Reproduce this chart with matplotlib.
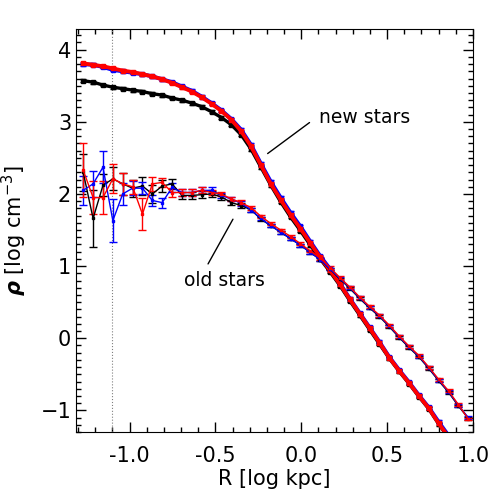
import matplotlib
matplotlib.use('Agg')
import matplotlib.pyplot as plt
from matplotlib.ticker import MultipleLocator

# bin centres [log kpc]
r = [-1.27, -1.2125, -1.155, -1.0975, -1.04, -0.9825, -0.925, -0.8675, -0.81, -0.7525,
     -0.695, -0.6375, -0.58, -0.5225, -0.465, -0.4075, -0.35, -0.2925, -0.235, -0.1775,
     -0.12, -0.0625, -0.005, 0.0525, 0.11, 0.1675, 0.225, 0.2825, 0.34, 0.3975,
     0.455, 0.5125, 0.57, 0.6275, 0.685, 0.7425, 0.80, 0.8575, 0.915, 0.9725]

# new stars
new_red = [3.81, 3.79, 3.77, 3.74, 3.71, 3.69, 3.66, 3.63, 3.59, 3.54,
           3.48, 3.42, 3.34, 3.25, 3.15, 3.03, 2.87, 2.66, 2.40, 2.14,
           1.92, 1.71, 1.52, 1.32, 1.12, 0.94, 0.75, 0.54, 0.34, 0.14,
           -0.06, -0.27, -0.45, -0.62, -0.80, -0.97, -1.18, -1.37]
new_blue = [3.80, 3.79, 3.76, 3.72, 3.70, 3.68, 3.66, 3.63, 3.59, 3.55,
            3.49, 3.43, 3.35, 3.26, 3.16, 3.04, 2.89, 2.68, 2.42, 2.17,
            1.95, 1.74, 1.55, 1.34, 1.14, 0.96, 0.76, 0.55, 0.35, 0.15,
            -0.05, -0.26, -0.44, -0.61, -0.79, -0.96, -1.16, -1.35]
new_black = [3.57, 3.55, 3.51, 3.48, 3.46, 3.44, 3.42, 3.39, 3.37, 3.33,
             3.30, 3.26, 3.21, 3.14, 3.06, 2.96, 2.82, 2.62, 2.37, 2.12,
             1.89, 1.68, 1.49, 1.29, 1.10, 0.92, 0.73, 0.52, 0.32, 0.12,
             -0.08, -0.28, -0.46, -0.63, -0.81, -0.98, -1.19, -1.38]
new_err = 0.02

# old stars
old_black = [2.30, 1.66, 2.12, 2.21, 2.14, 2.08, 2.11, 2.00, 2.11, 2.14,
             1.98, 1.98, 1.99, 2.00, 1.96, 1.88, 1.84, 1.78, 1.65, 1.56,
             1.47, 1.38, 1.29, 1.19, 1.09, 0.96, 0.82, 0.69, 0.55, 0.42,
             0.30, 0.16, 0.01, -0.13, -0.26, -0.42, -0.59, -0.75, -0.94, -1.11]
old_blue = [2.05, 2.14, 2.37, 1.63, 2.00, 2.08, 2.08, 1.91, 1.88, 2.09,
            2.02, 2.02, 2.05, 2.05, 1.98, 1.93, 1.87, 1.78, 1.66, 1.56,
            1.47, 1.38, 1.29, 1.19, 1.09, 0.96, 0.83, 0.70, 0.56, 0.43,
            0.31, 0.17, 0.02, -0.12, -0.25, -0.41, -0.58, -0.74, -0.93, -1.10]
old_red = [2.33, 1.95, 1.95, 2.21, 2.14, 2.10, 1.72, 2.14, 2.16, 2.02,
           2.02, 2.02, 2.05, 2.02, 2.00, 1.93, 1.88, 1.81, 1.69, 1.59,
           1.50, 1.41, 1.31, 1.21, 1.11, 0.98, 0.84, 0.71, 0.57, 0.44,
           0.32, 0.18, 0.03, -0.11, -0.24, -0.40, -0.57, -0.73, -0.92, -1.12]
err_black = [0.26, 0.40, 0.15, 0.16, 0.15, 0.12, 0.13, 0.12, 0.08, 0.07,
             0.05, 0.05, 0.05, 0.04, 0.04, 0.03, 0.03, 0.03, 0.03, 0.02,
             0.02, 0.02, 0.02, 0.02, 0.02, 0.02, 0.02, 0.02, 0.02, 0.02,
             0.02, 0.02, 0.02, 0.02, 0.02, 0.02, 0.02, 0.02, 0.02, 0.02]
err_blue = [0.20, 0.18, 0.22, 0.30, 0.15, 0.10, 0.08, 0.08, 0.07, 0.06,
            0.05, 0.05, 0.04, 0.04, 0.03, 0.03, 0.03, 0.03, 0.02, 0.02,
            0.02, 0.02, 0.02, 0.02, 0.02, 0.02, 0.02, 0.02, 0.02, 0.02,
            0.02, 0.02, 0.02, 0.02, 0.02, 0.02, 0.02, 0.02, 0.02, 0.02]
err_red = [0.37, 0.23, 0.23, 0.20, 0.15, 0.10, 0.22, 0.10, 0.06, 0.06,
           0.05, 0.05, 0.04, 0.04, 0.03, 0.03, 0.03, 0.03, 0.02, 0.02,
           0.02, 0.02, 0.02, 0.02, 0.02, 0.02, 0.02, 0.02, 0.02, 0.02,
           0.02, 0.02, 0.02, 0.02, 0.02, 0.02, 0.02, 0.02, 0.02, 0.02]

fig = plt.figure(figsize=(5, 5), dpi=100)
ax = fig.add_axes([0.152, 0.136, 0.794, 0.805])

ax.axvline(-1.1, color='0.5', ls=':', lw=0.8)

n = len(new_red)
for y, c, lw in [(new_black, 'black', 2.4), (new_blue, 'blue', 2.8), (new_red, 'red', 2.8)]:
    ax.errorbar(r[:n], y, yerr=new_err, color=c, lw=lw, marker='s', ms=2.5,
                capsize=2, elinewidth=1)

for y, e, c in [(old_black, err_black, 'black'), (old_blue, err_blue, 'blue'),
                (old_red, err_red, 'red')]:
    ax.errorbar(r, y, yerr=e, color=c, lw=1.0, marker='s', ms=1.8,
                capsize=3, elinewidth=1)

ax.annotate('', xy=(-0.196, 2.56), xytext=(0.048, 2.99),
            arrowprops=dict(arrowstyle='-', color='black', lw=1, shrinkA=0, shrinkB=0))
ax.text(0.105, 3.06, 'new stars', fontsize=13.5, ha='left', va='center')
ax.annotate('', xy=(-0.543, 1.03), xytext=(-0.398, 1.65),
            arrowprops=dict(arrowstyle='-', color='black', lw=1, shrinkA=0, shrinkB=0))
ax.text(-0.45, 0.80, 'old stars', fontsize=13.5, ha='center', va='center')

ax.set_xlim(-1.312, 1.0)
ax.set_ylim(-1.3, 4.28)
ax.xaxis.set_major_locator(MultipleLocator(0.5))
ax.xaxis.set_minor_locator(MultipleLocator(0.1))
ax.yaxis.set_major_locator(MultipleLocator(1))
ax.yaxis.set_minor_locator(MultipleLocator(0.1))
ax.xaxis.set_major_formatter(matplotlib.ticker.FormatStrFormatter('%.1f'))
ax.tick_params(which='both', direction='in', top=True, right=True, labelsize=15)
ax.tick_params(which='major', length=7, width=1)
ax.tick_params(which='minor', length=3.5, width=1)
ax.tick_params(axis='x', pad=10)

ax.set_xlabel('R [log kpc]', fontsize=15, labelpad=2)
ax.set_ylabel(r'$\boldsymbol{\rho}$ [log cm$^{-3}$]', fontsize=15, labelpad=8)

fig.savefig('out.png', dpi=100)
